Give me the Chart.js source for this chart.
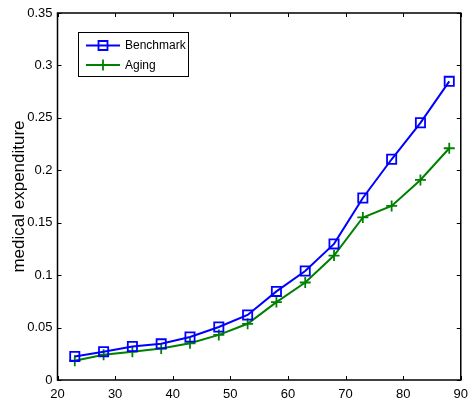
<!DOCTYPE html>
<html>
<head>
<meta charset="utf-8">
<script src="https://cdn.jsdelivr.net/npm/chart.js@4"></script>
<style>
  html, body { margin: 0; padding: 0; background: #fff; }
  #wrap { width: 475px; height: 406px; }
</style>
</head>
<body>
<div id="wrap"><canvas id="chart"></canvas></div>
<script>
// ages on the x axis
const ages = [23, 28, 33, 38, 43, 48, 53, 58, 63, 68, 73, 78, 83, 88];
const benchmark = [0.0225, 0.027, 0.032, 0.0345, 0.041, 0.0505, 0.062, 0.0845, 0.104, 0.1298, 0.1736, 0.2105, 0.2453, 0.2848];
const aging = [0.0184, 0.024, 0.027, 0.030, 0.035, 0.043, 0.0536, 0.0743, 0.093, 0.1187, 0.155, 0.166, 0.1908, 0.221];
const xTicks = [20, 30, 40, 50, 60, 70, 80, 90];
const yTicks = [0, 0.05, 0.1, 0.15, 0.2, 0.25, 0.3, 0.35];
const seriesNames = ['Benchmark', 'Aging'];

const BLUE = '#0000ff';
const GREEN = '#008000';

// box around the plot with inward ticks (matlab style)
const boxPlugin = {
  id: 'box',
  afterDraw(chart) {
    const ctx = chart.ctx;
    const a = chart.chartArea;
    const xs = chart.scales.x, ys = chart.scales.y;
    const tl = 4;
    ctx.save();
    ctx.strokeStyle = '#000';
    ctx.lineWidth = 1;
    ctx.beginPath();
    xTicks.forEach(v => {
      const px = Math.round(xs.getPixelForValue(v)) + 0.5;
      ctx.moveTo(px, a.bottom); ctx.lineTo(px, a.bottom - tl);
      ctx.moveTo(px, a.top); ctx.lineTo(px, a.top + tl);
    });
    yTicks.forEach(v => {
      const py = Math.round(ys.getPixelForValue(v)) + 0.5;
      ctx.moveTo(a.left, py); ctx.lineTo(a.left + tl, py);
      ctx.moveTo(a.right, py); ctx.lineTo(a.right - tl, py);
    });
    ctx.stroke();
    ctx.lineWidth = 1.5;
    ctx.strokeRect(a.left, a.top, a.right - a.left, a.bottom - a.top);
    ctx.restore();
  }
};

// legend box in the upper left of the axes
const legendPlugin = {
  id: 'boxLegend',
  afterDraw(chart) {
    const ctx = chart.ctx;
    const bx = 78.5, by = 32.5, bw = 110, bh = 44;
    ctx.save();
    ctx.fillStyle = '#fff';
    ctx.fillRect(bx, by, bw, bh);
    ctx.strokeStyle = '#000';
    ctx.lineWidth = 1;
    ctx.strokeRect(bx, by, bw, bh);
    const rows = [45.5, 65];
    chart.data.datasets.forEach((ds, i) => {
      const y = rows[i];
      ctx.strokeStyle = ds.borderColor;
      ctx.lineWidth = 2;
      ctx.beginPath();
      ctx.moveTo(86, y); ctx.lineTo(120, y);
      ctx.stroke();
      ctx.lineWidth = 1.8;
      ctx.beginPath();
      if (ds.pointStyle === 'rect') {
        ctx.rect(103 - 4.5, y - 4.5, 9, 9);
      } else {
        ctx.moveTo(103 - 5, y); ctx.lineTo(103 + 5, y);
        ctx.moveTo(103, y - 5.5); ctx.lineTo(103, y + 5.5);
      }
      ctx.stroke();
      ctx.fillStyle = '#000';
      ctx.font = '12px "Liberation Sans", Arial, sans-serif';
      ctx.textBaseline = 'middle';
      ctx.fillText(ds.label, 125, y + 0.5);
    });
    ctx.restore();
  }
};

const ctx = document.getElementById('chart').getContext('2d');
new Chart(ctx, {
  type: 'line',
  data: {
    datasets: [
      {
        label: seriesNames[0],
        data: ages.map((a, i) => ({ x: a, y: benchmark[i] })),
        borderColor: BLUE,
        backgroundColor: 'rgba(0,0,0,0)',
        borderWidth: 2,
        pointStyle: 'rect',
        pointRadius: 6.5,
        pointBorderWidth: 1.8,
        pointBorderColor: BLUE,
        pointBackgroundColor: 'rgba(0,0,0,0)',
        tension: 0
      },
      {
        label: seriesNames[1],
        data: ages.map((a, i) => ({ x: a, y: aging[i] })),
        borderColor: GREEN,
        backgroundColor: 'rgba(0,0,0,0)',
        borderWidth: 2,
        pointStyle: 'cross',
        pointRadius: 5.5,
        pointBorderWidth: 1.8,
        pointBorderColor: GREEN,
        tension: 0
      }
    ]
  },
  options: {
    responsive: true,
    maintainAspectRatio: false,
    animation: false,
    layout: { padding: { top: 13, right: 8, left: 0, bottom: 0 } },
    plugins: {
      legend: { display: false },
      tooltip: { enabled: false }
    },
    scales: {
      x: {
        type: 'linear',
        min: 20,
        max: 90,
        grid: { display: false, drawTicks: false },
        border: { display: false },
        afterFit: s => { s.height = 26; },
        afterBuildTicks: s => { s.ticks = xTicks.map(v => ({ value: v })); },
        ticks: {
          padding: 7,
          color: '#000',
          font: { family: '"Liberation Sans", Arial, sans-serif', size: 13 },
          callback: v => String(v)
        }
      },
      y: {
        min: 0,
        max: 0.35,
        grid: { display: false, drawTicks: false },
        border: { display: false },
        afterFit: s => { s.width = 57.5; },
        afterBuildTicks: s => { s.ticks = yTicks.map(v => ({ value: v })); },
        title: {
          display: true,
          text: 'medical expenditure',
          color: '#000',
          font: { family: '"Liberation Sans", Arial, sans-serif', size: 17 },
          padding: { top: 9, bottom: 0 }
        },
        ticks: {
          padding: 5,
          color: '#000',
          font: { family: '"Liberation Sans", Arial, sans-serif', size: 13 },
          callback: v => String(+v.toFixed(2))
        }
      }
    }
  },
  plugins: [boxPlugin, legendPlugin]
});
</script>
</body>
</html>
